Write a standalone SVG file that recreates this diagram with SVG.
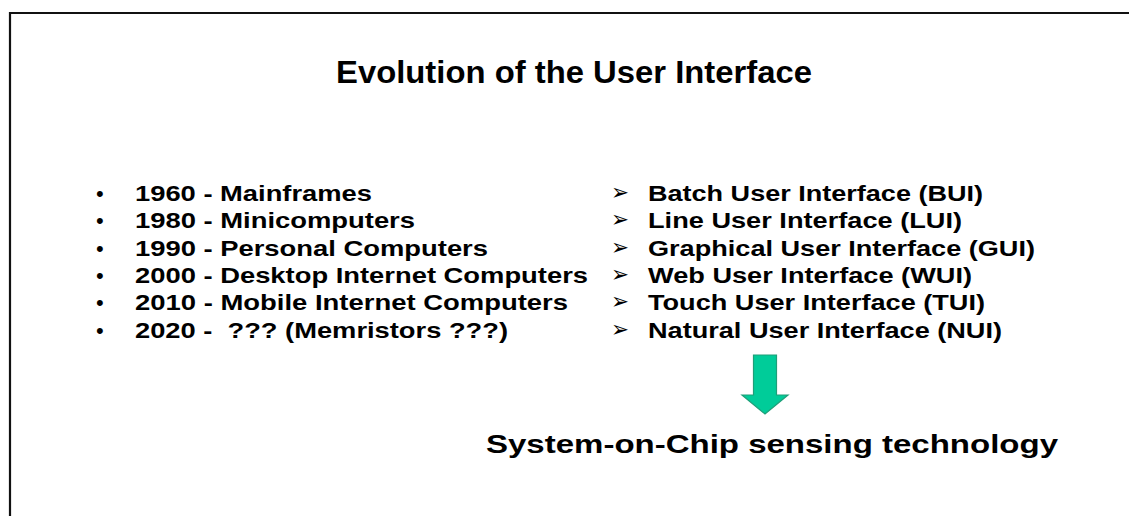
<svg xmlns="http://www.w3.org/2000/svg" width="1129" height="516" viewBox="0 0 1129 516">
<style>
.t{font-family:"Liberation Sans",Arial,sans-serif;font-weight:bold;fill:#000;}
.li{font-size:22px;}
.bul{font-family:"Liberation Sans",Arial,sans-serif;font-size:22px;fill:#000;}
.arb{font-family:"DejaVu Sans",sans-serif;font-size:23px;fill:#000;}
</style>
<rect width="1129" height="516" fill="#fff"/>
<g id="frame">
<path d="M10 516 V13 H1129" fill="none" stroke="#111" stroke-width="2.2"/>
</g>
<g id="title">
<text class="t" x="336" y="83" font-size="32" textLength="476" lengthAdjust="spacingAndGlyphs">Evolution of the User Interface</text>
</g>
<g id="eras">
<text class="bul" x="96" y="201">•</text>
<text class="bul" x="96" y="228">•</text>
<text class="bul" x="96" y="255.5">•</text>
<text class="bul" x="96" y="283">•</text>
<text class="bul" x="96" y="310">•</text>
<text class="bul" x="96" y="337.5">•</text>
<text class="t li" x="135" y="201" textLength="237" lengthAdjust="spacingAndGlyphs">1960 - Mainframes</text>
<text class="t li" x="135" y="228" textLength="280" lengthAdjust="spacingAndGlyphs">1980 - Minicomputers</text>
<text class="t li" x="135" y="255.5" textLength="353" lengthAdjust="spacingAndGlyphs">1990 - Personal Computers</text>
<text class="t li" x="135" y="283" textLength="453" lengthAdjust="spacingAndGlyphs">2000 - Desktop Internet Computers</text>
<text class="t li" x="135" y="310" textLength="433" lengthAdjust="spacingAndGlyphs">2010 - Mobile Internet Computers</text>
<text class="t li" x="135" y="337.5" textLength="373" lengthAdjust="spacingAndGlyphs" xml:space="preserve" style="white-space:pre">2020 -  ??? (Memristors ???)</text>
</g>
<g id="interfaces">
<text class="arb" x="611" y="200" textLength="18" lengthAdjust="spacingAndGlyphs">➢</text>
<text class="arb" x="611" y="227" textLength="18" lengthAdjust="spacingAndGlyphs">➢</text>
<text class="arb" x="611" y="254.5" textLength="18" lengthAdjust="spacingAndGlyphs">➢</text>
<text class="arb" x="611" y="282" textLength="18" lengthAdjust="spacingAndGlyphs">➢</text>
<text class="arb" x="611" y="309" textLength="18" lengthAdjust="spacingAndGlyphs">➢</text>
<text class="arb" x="611" y="336.5" textLength="18" lengthAdjust="spacingAndGlyphs">➢</text>
<text class="t li" x="648" y="201" textLength="335" lengthAdjust="spacingAndGlyphs">Batch User Interface (BUI)</text>
<text class="t li" x="648" y="228" textLength="314" lengthAdjust="spacingAndGlyphs">Line User Interface (LUI)</text>
<text class="t li" x="648" y="255.5" textLength="387" lengthAdjust="spacingAndGlyphs">Graphical User Interface (GUI)</text>
<text class="t li" x="648" y="283" textLength="324" lengthAdjust="spacingAndGlyphs">Web User Interface (WUI)</text>
<text class="t li" x="648" y="310" textLength="337" lengthAdjust="spacingAndGlyphs">Touch User Interface (TUI)</text>
<text class="t li" x="648" y="337.5" textLength="354" lengthAdjust="spacingAndGlyphs">Natural User Interface (NUI)</text>
</g>
<g id="connectors">
<polygon points="753.5,355 776.5,355 776.5,395 788,395 765,414 742,395 753.5,395" fill="#00cc99" stroke="#1f9e78" stroke-width="1.2"/>
</g>
<g id="result">
<text class="t" x="486" y="453" font-size="26" textLength="572" lengthAdjust="spacingAndGlyphs">System-on-Chip sensing technology</text>
</g>
</svg>
